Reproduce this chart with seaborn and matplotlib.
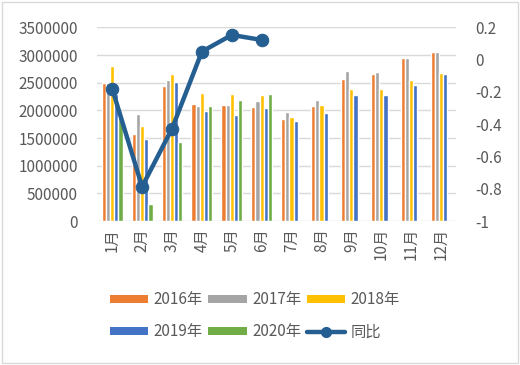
import matplotlib
matplotlib.use("Agg")
import matplotlib.pyplot as plt
import seaborn as sns
import pandas as pd
import numpy as np
from matplotlib.ticker import FuncFormatter, MultipleLocator
from matplotlib.lines import Line2D
from matplotlib.patches import Patch, Rectangle

months = ["1月", "2月", "3月", "4月", "5月", "6月", "7月", "8月", "9月", "10月", "11月", "12月"]
years = ["2016年", "2017年", "2018年", "2019年", "2020年"]
v2016 = [2500000, 1570000, 2440000, 2120000, 2090000, 2060000, 1850000, 2070000, 2560000, 2650000, 2940000, 3060000]
v2017 = [2500000, 1940000, 2550000, 2080000, 2100000, 2170000, 1970000, 2180000, 2710000, 2700000, 2955000, 3060000]
v2018 = [2810000, 1710000, 2660000, 2320000, 2290000, 2270000, 1880000, 2100000, 2395000, 2380000, 2545000, 2680000]
v2019 = [2300000, 1475000, 2515000, 1985000, 1915000, 2045000, 1810000, 1955000, 2275000, 2280000, 2460000, 2660000]
v2020 = [1880000, 300000, 1430000, 2070000, 2195000, 2300000, np.nan, np.nan, np.nan, np.nan, np.nan, np.nan]
yoy_months = ["1月", "2月", "3月", "4月", "5月", "6月"]
yoy = [-0.18, -0.787, -0.428, 0.05, 0.153, 0.122]

colors = ["#ED7D31", "#A5A5A5", "#FFC000", "#4472C4", "#70AD47"]
line_color = "#255E91"
text_color = "#595959"

rows = []
for y, vals in zip(years, [v2016, v2017, v2018, v2019, v2020]):
    for m, v in zip(months, vals):
        rows.append({"month": m, "year": y, "value": v})
df = pd.DataFrame(rows)

sns.set_theme(style="white")
plt.rcParams["font.family"] = ["Noto Sans CJK SC", "DejaVu Sans"]
plt.rcParams["axes.unicode_minus"] = False

fig = plt.figure(figsize=(5.2, 3.65), dpi=100)
ax = fig.add_axes([0.187, 0.3945, 0.690, 0.5305])

sns.barplot(data=df, x="month", y="value", hue="year", order=months, hue_order=years,
            palette=colors, width=0.7, ax=ax, legend=False, saturation=1)
ax.set_ylim(0, 3500000)
ax.yaxis.set_major_locator(MultipleLocator(500000))
ax.set_xlim(-0.5, 11.5)
ax.grid(axis="y", color="#D9D9D9", linewidth=1)
ax.set_axisbelow(True)
for s in ["top", "right", "left", "bottom"]:
    ax.spines[s].set_visible(False)
ax.set_xlabel("")
ax.set_ylabel("")
ax.tick_params(axis="y", labelsize=11, colors=text_color, length=0, pad=14)
ax.tick_params(axis="x", labelsize=11, colors=text_color, length=0, pad=5, labelrotation=90)
ax.yaxis.set_major_formatter(FuncFormatter(lambda v, p: f"{int(v)}"))

ax2 = ax.twinx()
xpos = [months.index(m) for m in yoy_months]
ldf = pd.DataFrame({"x": xpos, "yoy": yoy})
sns.lineplot(data=ldf, x="x", y="yoy", ax=ax2, color=line_color, linewidth=3.2,
             marker="o", markersize=9, markeredgecolor=line_color)
ax2.set_ylim(-1, 0.2)
ax2.yaxis.set_major_locator(MultipleLocator(0.2))
ax2.yaxis.set_major_formatter(FuncFormatter(lambda v, p: f"{round(v, 1):g}" if abs(v) > 1e-9 else "0"))
for s in ["top", "right", "left", "bottom"]:
    ax2.spines[s].set_visible(False)
ax2.set_xlabel("")
ax2.set_ylabel("")
ax2.tick_params(axis="y", labelsize=11, colors=text_color, length=0, pad=14)
ax2.grid(False)
ax.set_xlim(-0.5, 11.5)

patches = {y: Patch(facecolor=c, edgecolor="none", label=y) for c, y in zip(colors, years)}
line_handle = Line2D([0], [0], color=line_color, linewidth=3.2, marker="o", markersize=7, label="同比")
# column-major filling for ncol=3 -> rows: 2016,2017,2018 / 2019,2020,同比
handles = [patches["2016年"], patches["2019年"], patches["2017年"], patches["2020年"],
           patches["2018年"], line_handle]
leg = fig.legend(handles=handles, loc="center", bbox_to_anchor=(0.49, 0.135), ncol=3,
                 frameon=False, fontsize=11, handlelength=2.5, handleheight=0.45,
                 columnspacing=0.4, handletextpad=0.35, labelspacing=1.0)
for t in leg.get_texts():
    t.set_color(text_color)

fig.patches.append(Rectangle((0.004, 0.006), 0.992, 0.988, transform=fig.transFigure,
                             fill=False, edgecolor="#D9D9D9", linewidth=1))

fig.savefig("out.png", dpi=100)
